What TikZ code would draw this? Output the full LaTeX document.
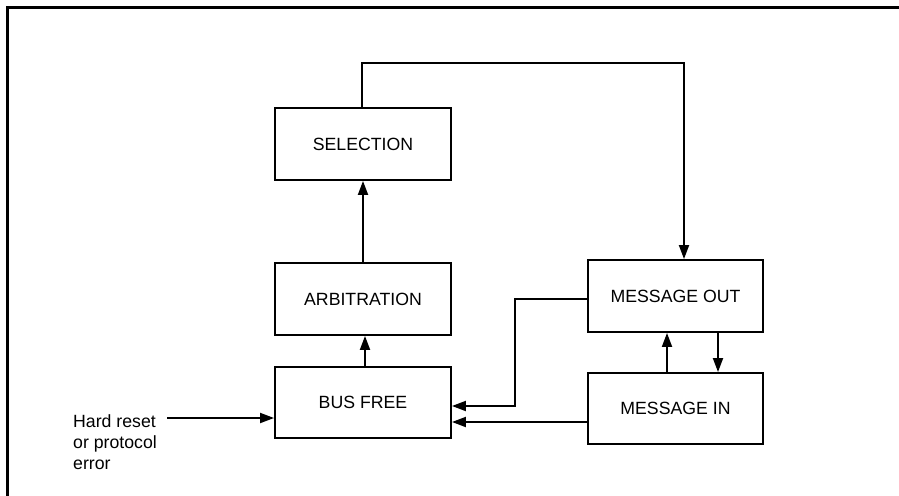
\documentclass[tikz,border=0pt]{standalone}
\usepackage{fontspec}
\setmainfont{Liberation Sans}
\usetikzlibrary{arrows.meta}
\begin{document}
\begin{tikzpicture}[x=1pt,y=-1pt,
  statebox/.style={draw,line width=1.9pt,minimum width=176pt,minimum height=72pt,inner sep=0pt,
    font=\fontsize{17.7}{21}\selectfont},
  arr/.style={line width=1.9pt,-{Triangle[length=14pt,width=10pt]}}]
\useasboundingbox (0,0) rectangle (899,495);
\draw[line width=2.2pt] (7.5,500) -- (7.5,7.5) -- (905,7.5);
\node[statebox] (sel) at (363,144) {SELECTION};
\node[statebox] (arb) at (363,299) {ARBITRATION};
\node[statebox,minimum height=71pt] (bus) at (363,402.5) {BUS FREE};
\node[statebox,minimum width=175pt] (mout) at (675.5,296) {MESSAGE OUT};
\node[statebox,minimum width=175pt,minimum height=71pt] (min) at (675.5,408.5) {MESSAGE IN};
\node[anchor=north west,align=left,inner sep=0pt,font=\fontsize{17.7}{21}\selectfont] (hrtext) at (73,414) {Hard reset\\or protocol\\error};
\coordinate (hr) at (167,418);
\coordinate (j1) at (515,406);
\coordinate (top) at (362,63);
% connectors
\draw[arr] (arb.north) -- (sel.south);
\draw[arr] ([xshift=2pt]bus.north) -- ([xshift=2pt]arb.south);
\draw[arr] ([xshift=-1pt]sel.north) -- ([xshift=-1pt]sel.north |- top) -| ([xshift=8.5pt]mout.north);
\draw[arr] ([yshift=-3pt]mout.west) -| (j1) -- (j1 -| bus.east);
\draw[arr] ([yshift=-13.5pt]min.west) -- ([yshift=-13.5pt]min.west -| bus.east);
\draw[arr] ([xshift=-8.5pt]min.north) -- ([xshift=-8.5pt]mout.south);
\draw[arr] ([xshift=42.5pt]mout.south) -- ([xshift=42.5pt]min.north);
\draw[arr] (hr) -- (hr -| bus.west);
\end{tikzpicture}
\end{document}
